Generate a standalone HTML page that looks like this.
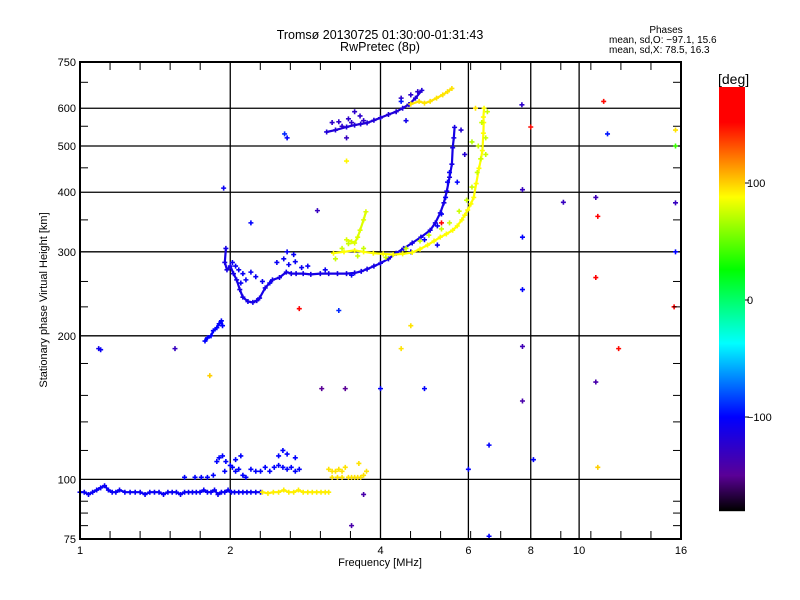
<!DOCTYPE html>
<html><head><meta charset="utf-8"><title>Ionogram</title>
<style>
html,body{margin:0;padding:0;background:#fff;}
svg{display:block;font-family:"Liberation Sans",sans-serif;}
</style></head>
<body>
<svg id="chart" width="800" height="600" viewBox="0 0 800 600">
<rect x="0" y="0" width="800" height="600" fill="#fff"/>
<text x="380" y="39" text-anchor="middle" font-size="12.5">Tromsø 20130725 01:30:00-01:31:43</text>
<text x="380" y="51" text-anchor="middle" font-size="12.5">RwPretec (8p)</text>
<text x="666" y="33" text-anchor="middle" font-size="10">Phases</text>
<text x="609" y="43" font-size="10">mean, sd,O: −97.1, 15.6</text>
<text x="609" y="53" font-size="10">mean, sd,X:  78.5, 16.3</text>
<g id="grid"></g>
<g id="marks"></g>
<g id="axes"></g>
<text x="380" y="566" text-anchor="middle" font-size="11">Frequency [MHz]</text>
<text transform="translate(47,300) rotate(-90)" text-anchor="middle" font-size="11">Stationary phase Virtual Height [km]</text>
<g id="cbar"></g>
<text x="718" y="84" font-size="14">[deg]</text>
</svg>
<script>
// ---- axis data ----
const xTickValues = [1, 2, 4, 6, 8, 10, 16];
const xTickLabels = ["1", "2", "4", "6", "8", "10", "16"];
const xGridValues = [2, 4, 6, 8, 10];
const yTickValues = [75, 100, 200, 300, 400, 500, 600, 750];
const yTickLabels = ["75", "100", "200", "300", "400", "500", "600", "750"];
const yGridValues = [100, 200, 300, 400, 500, 600];
const cbarTickValues = [100, 0, -100];
const cbarTickLabels = ["100", "0", "-100"];

// ---- series data (frequency MHz, virtual height km, phase deg) ----
const eOFreqs = [1.00,1.02,1.04,1.06,1.08,1.10,1.12,1.14,1.16,1.18,1.20,1.23,1.26,1.29,1.32,1.35,1.38,1.41,1.44,1.47,1.50,1.53,1.56,1.59,1.62,1.65,1.68,1.71,1.74,1.77,1.80,1.83,1.86,1.89,1.92,1.95,1.98,2.01,2.04,2.08,2.12,2.16,2.20,2.25,2.30];
const eOHeights = [94,94,93,94,95,96,97,95,94,94,95,94,94,94,94,93,94,94,94,93,94,94,94,93,94,94,94,94,94,95,94,94,95,93,94,94,95,94,94,94,94,94,94,94,94];
const eOPhase = -105;

const eXFreqs = [2.32,2.38,2.44,2.50,2.56,2.62,2.68,2.74,2.80,2.86,2.92,2.98,3.04,3.10,3.15];
const eXHeights = [94,93.5,94,94,95,94,94,95,94,94,94,94,94,94,94];
const eXPhase = 92;

const esFreqs = [1.62,1.70,1.75,1.80,1.85,1.88,1.90,1.93,1.96,2.00,2.02,2.05,2.08,2.12,2.15,2.20,2.25,2.30,2.35,2.40,2.45,2.50,2.55,2.60,2.65,2.70,2.75,2.10,2.50,2.55,2.60,2.70,1.95,2.05];
const esHeights = [101,101,101,101,102,109,111,112,109,107,106,104,105,102,101,105,104,104,106,104,106,107,106,105,106,104,105,112,112,115,113,111,104,110];
const esPhase = -100;

const esXFreqs = [3.15,3.20,3.25,3.30,3.35,3.20,3.28,3.35,3.45,3.50,3.55,3.60,3.65,3.70,3.75,3.40,3.62];
const esXHeights = [105,104,104,105,104,101,101,101,101,101,101,101,101,102,104,106,108];
const esXPhase = 95;

const fOFreqs = [1.96,1.95,1.97,2.00,2.03,2.06,2.09,2.12,2.17,2.22,2.26,2.29,2.35,2.43,2.51,2.59,2.65,2.71,2.80,2.90,3.03,3.15,3.28,3.42,3.55,3.66,3.76,3.88,4.00,4.15,4.30,4.45,4.63,4.82,5.03,5.15,5.27,5.36,5.43,5.50,5.56,5.58,5.61,5.63];
const fOHeights = [305,285,275,280,270,262,250,241,236,235,237,240,252,262,265,272,270,270,270,269,270,270,270,270,271,273,276,280,284,290,298,305,313,322,333,345,362,380,402,430,458,496,520,547];
const fOPhase = -112;

const fOScatFreqs = [2.02,2.05,2.08,2.12,2.20,2.25,2.32,2.40,2.48,2.56,2.62,2.70,2.78,2.86,2.10,2.15,2.60,2.68,3.10,3.50,4.60,4.90,5.20,5.30,5.40,5.45,5.50,5.20];
const fOScatHeights = [285,280,275,270,272,266,260,258,285,290,282,286,278,280,258,262,300,296,275,268,300,318,340,360,390,420,440,310];
const fOScatPhase = -105;

const fXFreqs = [3.22,3.38,3.55,3.70,3.87,4.05,4.24,4.43,4.63,4.80,4.97,5.12,5.27,5.42,5.58,5.70,5.82,5.90,5.98,6.07,6.15,6.22,6.30,6.36,6.40,6.43,6.44,6.43,6.45];
const fXHeights = [298,300,302,300,298,297,296,297,299,304,310,316,322,327,333,340,350,358,367,378,390,417,449,470,489,532,560,575,600];
const fXPhase = 88;

const fXScatFreqs = [3.25,3.35,3.45,3.60,3.70,4.10,4.50,4.80,5.00,5.30,5.50,5.75,5.95,6.10,6.25,6.35,6.50,6.50,6.38,6.28,6.55];
const fXScatHeights = [290,305,312,294,305,292,305,316,325,335,345,365,385,410,440,470,520,480,560,500,590];
const fXScatPhase = 75;

const fBranchFreqs = [3.42,3.50,3.55,3.60,3.64,3.70,3.74];
const fBranchHeights = [318,315,313,322,333,350,364];
const fBranchPhase = 80;

const f2Freqs = [3.12,3.25,3.42,3.55,3.65,3.76,3.88,4.00,4.15,4.30,4.43,4.56,4.70,4.84];
const f2Heights = [535,540,548,553,556,559,566,573,582,590,600,611,630,654];
const f2Phase = -118;

const f2bFreqs = [3.20,3.30,3.45,3.55,3.64,3.35,3.50,3.70,4.40,4.60,4.75];
const f2bHeights = [560,562,570,590,578,550,560,565,630,640,650];
const f2bPhase = -125;

const f2XFreqs = [4.60,4.78,4.90,5.03,5.18,5.33,5.45,5.56];
const f2XHeights = [612,620,615,620,630,640,650,660];
const f2XPhase = 95;

const lowFFreqs = [1.78,1.80,1.83,1.85,1.88,1.90,1.92,1.93];
const lowFHeights = [195,198,200,205,208,212,215,210];
const lowFPhase = -100;

// isolated points
const scatFreqs = [1.09,1.10,1.55,1.94,2.57,2.60,2.99,3.42,3.42,4.40,7.68,8.00,7.70,7.70,7.70,7.70,7.70,8.10,9.30,10.8,10.9,11.2,11.4,10.8,10.9,10.8,12.0,15.6,15.6,15.6,15.6,15.5,6.60,6.60,6.00,3.50,3.70,2.75,3.30,3.05,3.40,4.00,4.90,4.40,4.60,5.80,5.90,5.70,6.20,6.10,5.30,4.50,1.82,2.20];
const scatHeights = [188,187,188,408,530,520,366,465,520,620,610,548,405,322,250,190,146,110,381,390,356,620,530,160,106,265,188,540,500,380,300,230,118,76,105,80,93,228,226,155,155,155,155,188,210,540,480,420,600,510,345,565,165,345];
const scatPhases = [-110,-105,-130,-105,-90,-100,-130,90,-130,-95,-125,150,-130,-100,-100,-135,-140,-100,-130,-135,170,150,-95,-140,100,160,150,95,40,-130,-100,160,-100,-100,-100,-140,-140,170,-90,-150,-150,-100,-100,95,95,-120,-120,-100,95,70,170,-110,100,-100];

// ---- scales ----
const X0 = 80, X1 = 681, Y0 = 62, Y1 = 539;
const xs = f => X0 + (X1 - X0) * Math.log(f) / Math.log(16);
const ys = h => Y1 - (Y1 - Y0) * Math.log10(h / 75);
const CB_TOP = 87, CB_BOT = 511;
const cbY = p => 300 - p * 1.17;

const colorStops = [[-180,[0,0,0]],[-150,[90,0,150]],[-100,[0,0,255]],[-37,[0,255,255]],[26,[0,255,0]],[88,[255,255,0]],[152,[255,0,0]],[182,[255,0,0]]];
function phaseColor(p){
  if(p <= colorStops[0][0]) return 'rgb(0,0,0)';
  for(let i=1;i<colorStops.length;i++){
    if(p <= colorStops[i][0]){
      const a = colorStops[i-1], b = colorStops[i];
      const t = (p - a[0]) / (b[0] - a[0]);
      const c = a[1].map((v,k)=>Math.round(v + (b[1][k]-v)*t));
      return 'rgb(' + c.join(',') + ')';
    }
  }
  return 'rgb(255,0,0)';
}

const NS = 'http://www.w3.org/2000/svg';
function mk(tag, attrs, parent){
  const e = document.createElementNS(NS, tag);
  for(const k in attrs) e.setAttribute(k, attrs[k]);
  parent.appendChild(e);
  return e;
}
const grid = document.getElementById('grid');
const marks = document.getElementById('marks');
const axes = document.getElementById('axes');
const cbar = document.getElementById('cbar');

xGridValues.forEach(v => {
  const l = mk('line', {x1: xs(v), x2: xs(v), y1: Y0, y2: Y1, stroke: '#000', 'stroke-width': 1.3}, grid);
  
  
});
yGridValues.forEach(v => {
  const l = mk('line', {x1: X0, x2: X1, y1: ys(v), y2: ys(v), stroke: '#000', 'stroke-width': 1.3}, grid);
  
  
});

function drawTrace(freqs, heights, phase, name, connect){
  const col = phaseColor(phase);
  if(connect){
    const d = freqs.map((f,i)=>(i?'L':'M') + xs(f).toFixed(1) + ',' + ys(heights[i]).toFixed(1)).join('');
    const p = mk('path', {d: d, fill: 'none', stroke: col, 'stroke-width': 2.2, 'stroke-linejoin': 'round'}, marks);
    
    
  }
  freqs.forEach((f,i)=>{
    const x = xs(f), y = ys(heights[i]);
    const m = mk('path', {d: 'M'+(x-2.5)+','+y+'h5M'+x+','+(y-2.5)+'v5', stroke: col, 'stroke-width': 1.6}, marks);
    
    
  });
}
drawTrace(eOFreqs, eOHeights, eOPhase, 'e-layer-o', true);
drawTrace(eXFreqs, eXHeights, eXPhase, 'e-layer-x', true);
drawTrace(esFreqs, esHeights, esPhase, 'es-layer-o', false);
drawTrace(esXFreqs, esXHeights, esXPhase, 'es-layer-x', false);
drawTrace(fOFreqs, fOHeights, fOPhase, 'f-layer-o', true);
drawTrace(fOScatFreqs, fOScatHeights, fOScatPhase, 'f-layer-o-scatter', false);
drawTrace(fXFreqs, fXHeights, fXPhase, 'f-layer-x', true);
drawTrace(fXScatFreqs, fXScatHeights, fXScatPhase, 'f-layer-x-scatter', false);
drawTrace(fBranchFreqs, fBranchHeights, fBranchPhase, 'f-branch-x', true);
drawTrace(f2Freqs, f2Heights, f2Phase, 'multi-hop-o', true);
drawTrace(f2bFreqs, f2bHeights, f2bPhase, 'multi-hop-o2', false);
drawTrace(f2XFreqs, f2XHeights, f2XPhase, 'multi-hop-x', true);
drawTrace(lowFFreqs, lowFHeights, lowFPhase, 'low-f-echo', true);
scatFreqs.forEach((f,i)=>{
  const x = xs(f), y = ys(scatHeights[i]);
  const m = mk('path', {d: 'M'+(x-2.5)+','+y+'h5M'+x+','+(y-2.5)+'v5', stroke: phaseColor(scatPhases[i]), 'stroke-width': 1.6}, marks);
  
  
});

const frame = mk('rect', {x: X0, y: Y0, width: X1-X0, height: Y1-Y0, fill: 'none', stroke: '#000', 'stroke-width': 2}, axes);



[1,2,4,8].forEach(base => {
  for(let k=1;k<5;k++){
    const x = xs(base * Math.pow(2, k/5));
    [[Y0, Y0+8],[Y1, Y1-8]].forEach(([a,b])=>{
      const t = mk('line', {x1: x, x2: x, y1: a, y2: b, stroke: '#000', 'stroke-width': 1}, axes);
      
      
    });
  }
});
[80,85,90,115,132,150,175,230,260,350,450,550,680].forEach(h => {
  const y = ys(h);
  [[X0, X0+8],[X1, X1-8]].forEach(([a,b])=>{
    const t = mk('line', {x1: a, x2: b, y1: y, y2: y, stroke: '#000', 'stroke-width': 1}, axes);
    
    
  });
});

xTickValues.forEach((v,i)=>{
  const t = mk('text', {x: xs(v), y: 554, 'text-anchor': 'middle', 'font-size': 11}, axes);
  t.textContent = xTickLabels[i];
  
  
});
yTickValues.forEach((v,i)=>{
  const t = mk('text', {x: 76, y: ys(v) + 4, 'text-anchor': 'end', 'font-size': 11}, axes);
  t.textContent = yTickLabels[i];
  
  
});

for(let y = CB_TOP; y < CB_BOT; y++){
  const p = (300 - (y + 0.5)) / 1.17;
  const r = mk('rect', {x: 719, y: y, width: 26, height: 1.2, fill: phaseColor(p)}, cbar);
  
  
}
cbarTickValues.forEach((v,i)=>{
  const y = cbY(v);
  const tk = mk('line', {x1: 745, x2: 749, y1: y, y2: y, stroke: '#000'}, cbar);
  
  
  const t = mk('text', {x: 747, y: y + 4, 'font-size': 11}, cbar);
  t.textContent = cbarTickLabels[i].replace('-', '−');
  
  
});
</script>
</body></html>
